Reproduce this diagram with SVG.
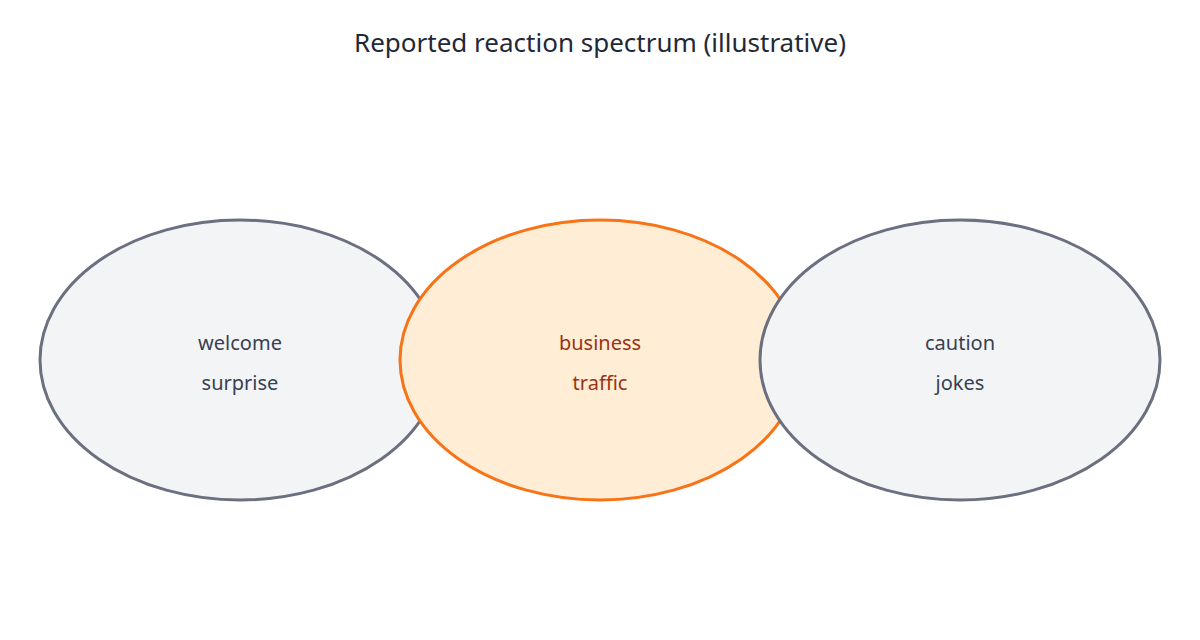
<svg xmlns="http://www.w3.org/2000/svg" width="1200" height="640" viewBox="0 0 1200 640">
<style>
.t{font-family:"Noto Sans","Open Sans","DejaVu Sans",sans-serif;text-anchor:middle}
.title{font-size:26px;fill:#1f2937}
.g{fill:#f3f4f6;stroke:#6b7080;stroke-width:3}
.o{fill:#ffedd5;stroke:#f97316;stroke-width:3}
.gl{font-size:20px;fill:#374151}
.ol{font-size:20px;fill:#9a3412}
</style>
<rect width="1200" height="640" fill="#ffffff"/>
<text class="t title" x="600" y="52">Reported reaction spectrum (illustrative)</text>
<g id="connectors"></g>
<g id="welcome">
<ellipse class="g" cx="240" cy="360" rx="200" ry="140"/>
<text class="t gl" x="240" y="350">welcome</text>
<text class="t gl" x="240" y="390">surprise</text>
</g>
<g id="business">
<ellipse class="o" cx="600" cy="360" rx="200" ry="140"/>
<text class="t ol" x="600" y="350">business</text>
<text class="t ol" x="600" y="390">traffic</text>
</g>
<g id="caution">
<ellipse class="g" cx="960" cy="360" rx="200" ry="140"/>
<text class="t gl" x="960" y="350">caution</text>
<text class="t gl" x="960" y="390">jokes</text>
</g>
</svg>
